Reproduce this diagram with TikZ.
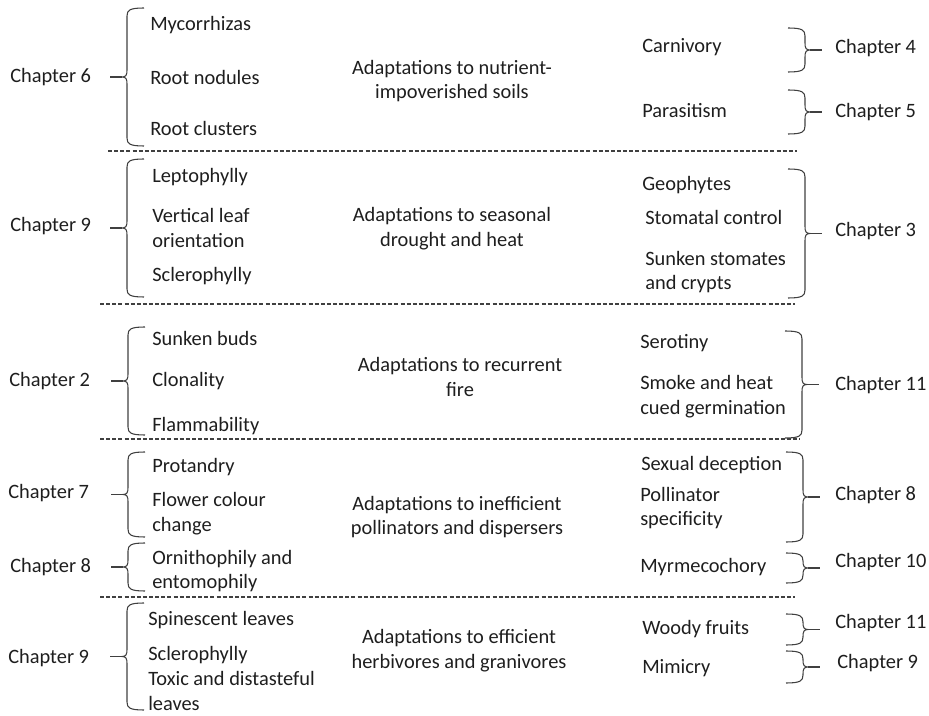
\documentclass[tikz,border=0pt]{standalone}
\usepackage{fontspec}
\setmainfont{Carlito}
\usepackage{xcolor}
\usepackage{tikz}
\definecolor{ink}{HTML}{1E1E1E}
\definecolor{rule}{HTML}{404040}
\tikzset{
  txt/.style={text=ink, inner sep=0pt, font=\fontsize{15.3}{18.5}\selectfont},
  item/.style={txt, anchor=west, align=left},
  chap/.style={txt, anchor=west},
  topic/.style={txt, anchor=center, align=center},
  brc/.style={draw=rule, line width=0.8pt},
  sep/.style={draw=rule, line width=0.8pt, dash pattern=on 3pt off 1.6pt}
}
% curly brace opening to the right, tip to the left: spine x, top y, bottom y
\newcommand{\bracel}[3]{%
  \pgfmathsetmacro{\brmid}{(#2+#3)/2}
  \draw[brc] (#1+17,#2) .. controls (#1+3,#2) and (#1,#2+2) .. (#1,#2+8)
    -- (#1,\brmid-7) .. controls (#1,\brmid-2) and (#1-1,\brmid) .. (#1-5,\brmid)
    .. controls (#1-1,\brmid) and (#1,\brmid+2) .. (#1,\brmid+7)
    -- (#1,#3-8) .. controls (#1,#3-2) and (#1+3,#3) .. (#1+17,#3);
  \draw[brc] (#1-5,\brmid) -- (#1-17,\brmid);
}
% curly brace opening to the left, tip to the right
\newcommand{\bracer}[3]{%
  \pgfmathsetmacro{\brmid}{(#2+#3)/2}
  \draw[brc] (#1-17,#2) .. controls (#1-3,#2) and (#1,#2+2) .. (#1,#2+8)
    -- (#1,\brmid-7) .. controls (#1,\brmid-2) and (#1+1,\brmid) .. (#1+5,\brmid)
    .. controls (#1+1,\brmid) and (#1,\brmid+2) .. (#1,\brmid+7)
    -- (#1,#3-8) .. controls (#1,#3-2) and (#1-3,#3) .. (#1-17,#3);
  \draw[brc] (#1+5,\brmid) -- (#1+17,\brmid);
}

\begin{document}
\begin{tikzpicture}[x=0.75pt, y=-0.75pt]
  \useasboundingbox (0,0) rectangle (929,716);

  % nutrient-poor soils
  \node[chap] (chsix) at (10,77) {Chapter 6};
  \bracel{127}{8}{146}
  \node[item] (myco) at (150,25) {Mycorrhizas};
  \node[item] (nodul) at (150,77) {Root nodules};
  \node[item] (clust) at (150,128) {Root clusters};
  \node[topic] (soils) at (452,81) {Adaptations to nutrient-\\impoverished soils};
  \node[item] (carni) at (642,47) {Carnivory};
  \node[item] (paras) at (642,111) {Parasitism};
  \bracer{805}{28}{72}
  \bracer{805}{90}{134}
  \node[chap] (chfour) at (835,48) {Chapter 4};
  \node[chap] (chfive) at (835,112) {Chapter 5};
  \draw[sep] (108,151) -- (797,151);

  % seasonal drought
  \node[chap] (chnineA) at (10,226) {Chapter 9};
  \bracel{127}{159}{297}
  \node[item] (lepto) at (152,177) {Leptophylly};
  \node[item] (vert) at (152,228) {Vertical leaf\\orientation};
  \node[item] (scleA) at (152,276) {Sclerophylly};
  \node[topic] (drought) at (452,229) {Adaptations to seasonal\\drought and heat};
  \node[item] (geo) at (642,185) {Geophytes};
  \node[item] (stoma) at (645,217) {Stomatal control};
  \node[item] (sunkst) at (645,272) {Sunken stomates\\and crypts};
  \bracer{805}{169}{298}
  \node[chap] (chthree) at (835,231) {Chapter 3};
  \draw[sep] (100,304) -- (795,304);

  % recurrent fire
  \node[chap] (chtwo) at (9,381) {Chapter 2};
  \bracel{128}{327}{435}
  \node[item] (buds) at (152,338) {Sunken buds};
  \node[item] (clon) at (152,381) {Clonality};
  \node[item] (flam) at (152,426) {Flammability};
  \node[topic] (fire) at (460,377) {Adaptations to recurrent\\fire};
  \node[item] (sero) at (640,343) {Serotiny};
  \node[item] (smoke) at (640,397) {Smoke and heat\\cued germination};
  \bracer{802}{331}{438}
  \node[chap] (chelevA) at (835,385) {Chapter 11};
  \draw[sep] (100,439) -- (800,439);

  % inefficient pollinators and dispersers
  \node[chap] (chseven) at (8,493) {Chapter 7};
  \bracel{128}{452}{537}
  \node[item] (protan) at (152,467) {Protandry};
  \node[item] (flower) at (152,514) {Flower colour\\change};
  \node[chap] (cheightA) at (10,567) {Chapter 8};
  \bracel{128}{543}{591}
  \node[item] (ornith) at (152,571) {Ornithophily and\\entomophily};
  \node[topic] (pollin) at (457,517) {Adaptations to inefficient\\pollinators and dispersers};
  \node[item] (sexdec) at (641,465) {Sexual deception};
  \node[item] (spec) at (640,508) {Pollinator\\specificity};
  \node[item] (myrm) at (640,567) {Myrmecochory};
  \bracer{803}{452}{542}
  \bracer{803}{553}{583}
  \node[chap] (cheightB) at (835,495) {Chapter 8};
  \node[chap] (chten) at (835,562) {Chapter 10};
  \draw[sep] (100,597) -- (795,597);

  % efficient herbivores and granivores
  \node[chap] (chnineB) at (8,658) {Chapter 9};
  \bracel{127}{603}{710}
  \node[item] (spine) at (148,620) {Spinescent leaves};
  \node[item] (scleB) at (148,655) {Sclerophylly};
  \node[item] (toxic) at (148,691) {Toxic and distasteful\\leaves};
  \node[topic] (herb) at (459,651) {Adaptations to efficient\\herbivores and granivores};
  \node[item] (woody) at (642,629) {Woody fruits};
  \node[item] (mimic) at (642,668) {Mimicry};
  \bracer{803}{614}{645}
  \bracer{803}{651}{683}
  \node[chap] (chelevB) at (835,623) {Chapter 11};
  \node[chap] (chnineC) at (837,663) {Chapter 9};
\end{tikzpicture}
\end{document}
